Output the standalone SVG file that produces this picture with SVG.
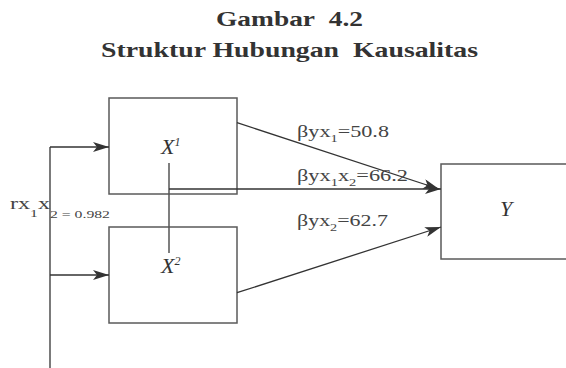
<svg xmlns="http://www.w3.org/2000/svg" width="566" height="368" viewBox="0 0 566 368">
  <style>
    .title { font-family: "Liberation Serif", "Times New Roman", serif; font-weight: bold; font-size: 21px; fill: #333; }
    .box { fill: #fff; stroke: #5a5a5a; stroke-width: 1.5; }
    .var { font-family: "Liberation Serif", "Times New Roman", serif; font-style: italic; font-size: 22px; fill: #333; }
    .sup { font-family: "Liberation Serif", "Times New Roman", serif; font-style: italic; font-size: 12px; fill: #333; }
    .lbl { font-family: "Liberation Serif", "Times New Roman", serif; font-size: 17px; fill: #444; }
    .sub { font-family: "Liberation Serif", "Times New Roman", serif; font-size: 11px; fill: #444; }
    .line { fill: none; stroke: #333; stroke-width: 1.3; }
    .tie { fill: none; stroke: #555; stroke-width: 1.5; }
  </style>
  <defs>
    <marker id="arrow" viewBox="0 0 16 10" refX="16" refY="5" markerWidth="16" markerHeight="10" markerUnits="userSpaceOnUse" orient="auto">
      <path d="M0,0 L16,5 L0,10 L4,5 Z" fill="#333"/>
    </marker>
  </defs>

  <!-- heading -->
  <text class="title" x="216" y="26" textLength="147" lengthAdjust="spacingAndGlyphs">Gambar&#160; 4.2</text>
  <text class="title" x="101" y="57" textLength="377" lengthAdjust="spacingAndGlyphs">Struktur Hubungan&#160; Kausalitas</text>

  <!-- nodes -->
  <g id="node-x1">
    <rect class="box" x="109" y="98" width="128" height="96"/>
    <text class="var" x="161" y="154">X<tspan class="sup" dy="-8">1</tspan></text>
  </g>
  <g id="node-x2">
    <rect class="box" x="109" y="227" width="128" height="96"/>
    <text class="var" x="161" y="273">X<tspan class="sup" dy="-8">2</tspan></text>
  </g>
  <g id="node-y">
    <rect class="box" x="441" y="164" width="140" height="95"/>
    <text class="var" x="500" y="216">Y</text>
  </g>

  <!-- connectors -->
  <g id="connectors">
    <line class="line" x1="50" y1="147" x2="50" y2="368"/>
    <line class="line" x1="50" y1="147" x2="109" y2="147" marker-end="url(#arrow)"/>
    <line class="line" x1="50" y1="275" x2="109" y2="275" marker-end="url(#arrow)"/>
    <line class="tie" x1="169" y1="163" x2="169" y2="253"/>
    <line class="line" x1="169" y1="189" x2="441" y2="189" marker-end="url(#arrow)"/>
    <line class="line" x1="237" y1="122.7" x2="439" y2="189" marker-end="url(#arrow)"/>
    <line class="line" x1="237" y1="292.7" x2="441" y2="227" marker-end="url(#arrow)"/>
  </g>

  <!-- path coefficients -->
  <g id="labels">
    <text class="lbl" x="297" y="137" textLength="92" lengthAdjust="spacingAndGlyphs">βyx<tspan class="sub" dy="5">1</tspan><tspan dy="-5">=50.8</tspan></text>
    <text class="lbl" x="297" y="181" textLength="111" lengthAdjust="spacingAndGlyphs">βyx<tspan class="sub" dy="5">1</tspan><tspan dy="-5">x</tspan><tspan class="sub" dy="5">2</tspan><tspan dy="-5">=66.2</tspan></text>
    <text class="lbl" x="297" y="226" textLength="91" lengthAdjust="spacingAndGlyphs">βyx<tspan class="sub" dy="5">2</tspan><tspan dy="-5">=62.7</tspan></text>
    <text class="lbl" x="10" y="209" textLength="40" lengthAdjust="spacingAndGlyphs">rx<tspan class="sub" dy="8">1</tspan><tspan dy="-8">x</tspan></text>
    <text class="sub" x="50" y="218" textLength="60" lengthAdjust="spacingAndGlyphs">2 = 0.982</text>
  </g>
</svg>
